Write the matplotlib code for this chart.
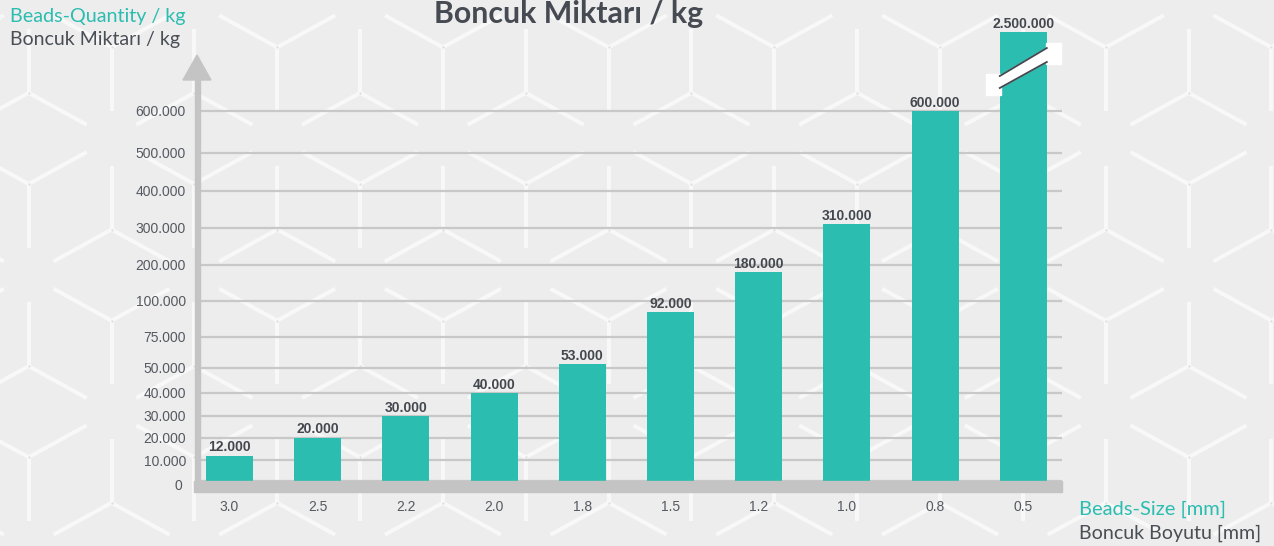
import numpy as np
import matplotlib
matplotlib.use("Agg")
import matplotlib.pyplot as plt
from matplotlib.collections import LineCollection
from matplotlib.patches import Rectangle, Polygon
import matplotlib.transforms as mtransforms

# ---------------- data ----------------
sizes = ["3.0", "2.5", "2.2", "2.0", "1.8", "1.5", "1.2", "1.0", "0.8", "0.5"]
quantities = [12000, 20000, 30000, 40000, 53000, 92000, 180000, 310000, 600000, 2500000]
y_ticks = [0, 10000, 20000, 30000, 40000, 50000, 75000, 100000,
           200000, 300000, 400000, 500000, 600000]
title = "Boncuk Miktarı / kg"
y_label_en = "Beads-Quantity / kg"
y_label_tr = "Boncuk Miktarı / kg"
x_label_en = "Beads-Size [mm]"
x_label_tr = "Boncuk Boyutu [mm]"

# piecewise-linear (non-uniform) value scale used by the original graphic
scale_values = [0, 10000, 20000, 30000, 40000, 50000, 75000, 100000,
                200000, 300000, 400000, 500000, 600000, 2500000]
scale_heights = [0, 21, 43.5, 65.3, 88.3, 113.3, 144.3, 180.3,
                 216.5, 253.3, 290.3, 328.3, 370, 449]


def fwd(v):
    return np.interp(v, scale_values, scale_heights)


def inv(h):
    return np.interp(h, scale_heights, scale_values)


def fmt(v):
    return f"{v:,}".replace(",", ".")


# ---------------- style ----------------
TEAL = "#2bbdb0"
DARK = "#43474e"
TICK = "#555a61"
AXIS_GREY = "#c4c4c4"
GRID = "#c8c8c8"
BG = "#ededed"
NARROW = ["Liberation Sans Narrow", "Liberation Sans", "DejaVu Sans"]
LABEL_FONT = ["Lato", "DejaVu Sans"]

W, H = 1274, 546
fig = plt.figure(figsize=(W / 100, H / 100), dpi=100, facecolor=BG)


def fx(px):
    return px / W


def fy(py):
    return 1 - py / H


# ---------------- background hexagon/cube pattern ----------------
bg = fig.add_axes([0, 0, 1, 1], zorder=-5)
bg.set_xlim(0, W)
bg.set_ylim(H, 0)
bg.axis("off")
dx, dy = 82.85, 45.55
x0, y0 = 1105.7, 47.3
frac = 0.70
segs = []
dots = []
for k in range(-15, 5):
    for j in range(-3, 15):
        if (k + j) % 2:
            continue
        t = j % 3
        if t == 2:
            continue
        cx, cy = x0 + k * dx, y0 + j * dy
        if t == 0:
            targets = [(cx - dx, cy - dy), (cx + dx, cy - dy), (cx, cy + 2 * dy)]
        else:
            targets = [(cx, cy - 2 * dy), (cx - dx, cy + dy), (cx + dx, cy + dy)]
        for tx, ty in targets:
            segs.append([(cx, cy), (cx + frac * (tx - cx), cy + frac * (ty - cy))])
        dots.append((cx, cy))
bg.add_collection(LineCollection(segs, colors="#f8f8f8", linewidths=2.9,
                                 capstyle="butt"))
dots = np.array(dots)
bg.scatter(dots[:, 0], dots[:, 1], s=2.5, color="#dedede", zorder=3, linewidths=0)

# ---------------- main axes ----------------
L, R, T, B = 197, 1062, 32, 481
ax = fig.add_axes([fx(L), fy(B), (R - L) / W, (B - T) / H])
ax.set_facecolor("none")
ax.set_yscale("function", functions=(fwd, inv))
ax.set_ylim(0, 2500000)
c0, step = 229.5, 88.2
ax.set_xlim((L - c0) / step, (R - c0) / step)
for s in ax.spines.values():
    s.set_visible(False)

xs = np.arange(len(sizes))
bar_w = 0.533
ax.bar(xs, quantities, width=bar_w, color=TEAL, zorder=3)

ax.set_yticks(y_ticks)
ax.set_yticklabels([fmt(v) for v in y_ticks])
ax.set_xticks(xs)
ax.set_xticklabels(sizes)
ax.tick_params(axis="y", length=0, pad=8, labelcolor=TICK, labelsize=10)
ax.tick_params(axis="x", length=0, pad=14, labelcolor=TICK, labelsize=10)
for lab in ax.get_yticklabels() + ax.get_xticklabels():
    lab.set_family(NARROW)
ax.yaxis.grid(True, color=GRID, linewidth=1.6, zorder=0)
ax.set_axisbelow(True)
# nudge the "0" label like in the original
t0 = ax.yaxis.get_major_ticks()[0].label1
t0.set_transform(t0.get_transform() +
                 mtransforms.ScaledTranslation(-4 / 100, -4 / 100, fig.dpi_scale_trans))

# value labels
for x, q in zip(xs, quantities):
    ax.annotate(fmt(q), (x, q), xytext=(0, 3), textcoords="offset points",
                ha="center", va="baseline", fontsize=10, fontweight="bold",
                color=DARK, family=NARROW, zorder=5, annotation_clip=False)

# axis line, arrow and base bar (figure pixel coordinates)
pix = mtransforms.Affine2D().scale(1 / W, -1 / H).translate(0, 1) + fig.transFigure
fig.add_artist(Rectangle((194.5, 80), 5, 402, transform=pix, color=AXIS_GREY, zorder=4))
fig.add_artist(Polygon([(183, 80), (211, 80), (197, 55)], closed=True,
                       transform=pix, color=AXIS_GREY, zorder=4))
fig.add_artist(Rectangle((194, 481), 868, 11, transform=pix, color=AXIS_GREY, zorder=4))

# break marker on the tallest bar
bx = xs[-1]
hw = bar_w / 2
ext = 0.16
bt = mtransforms.blended_transform_factory(ax.transData, pix)
ax.add_patch(Rectangle((bx - hw - ext, 74), ext + 0.01, 21, transform=bt,
                       color="white", zorder=6, clip_on=False))
ax.add_patch(Rectangle((bx + hw - 0.01, 43), ext + 0.01, 21, transform=bt,
                       color="white", zorder=6, clip_on=False))
ax.add_patch(Polygon([(bx - hw, 76), (bx + hw, 48), (bx + hw, 62), (bx - hw, 88)],
                     closed=True, transform=bt, color="white", zorder=6, clip_on=False))
ax.plot([bx - hw, bx + hw], [76, 48], transform=bt, color=DARK, lw=1.3,
        zorder=7, clip_on=False)
ax.plot([bx - hw, bx + hw], [88, 62], transform=bt, color=DARK, lw=1.3,
        zorder=7, clip_on=False)

# titles / axis labels
fig.text(fx(568.5), fy(23), title, ha="center", va="baseline", fontsize=21.8,
         fontweight="bold", color="#464a52", family=LABEL_FONT)
fig.text(fx(10), fy(21.7), y_label_en, ha="left", va="baseline", fontsize=14.2,
         color=TEAL, family=LABEL_FONT)
fig.text(fx(10), fy(45), y_label_tr, ha="left", va="baseline", fontsize=14,
         color="#4a4e55", family=LABEL_FONT)
fig.text(fx(1079), fy(515), x_label_en, ha="left", va="baseline", fontsize=14.5,
         color=TEAL, family=LABEL_FONT)
fig.text(fx(1079), fy(539), x_label_tr, ha="left", va="baseline", fontsize=14.1,
         color="#4a4e55", family=LABEL_FONT)

fig.savefig("out.png", dpi=100, facecolor=BG)
